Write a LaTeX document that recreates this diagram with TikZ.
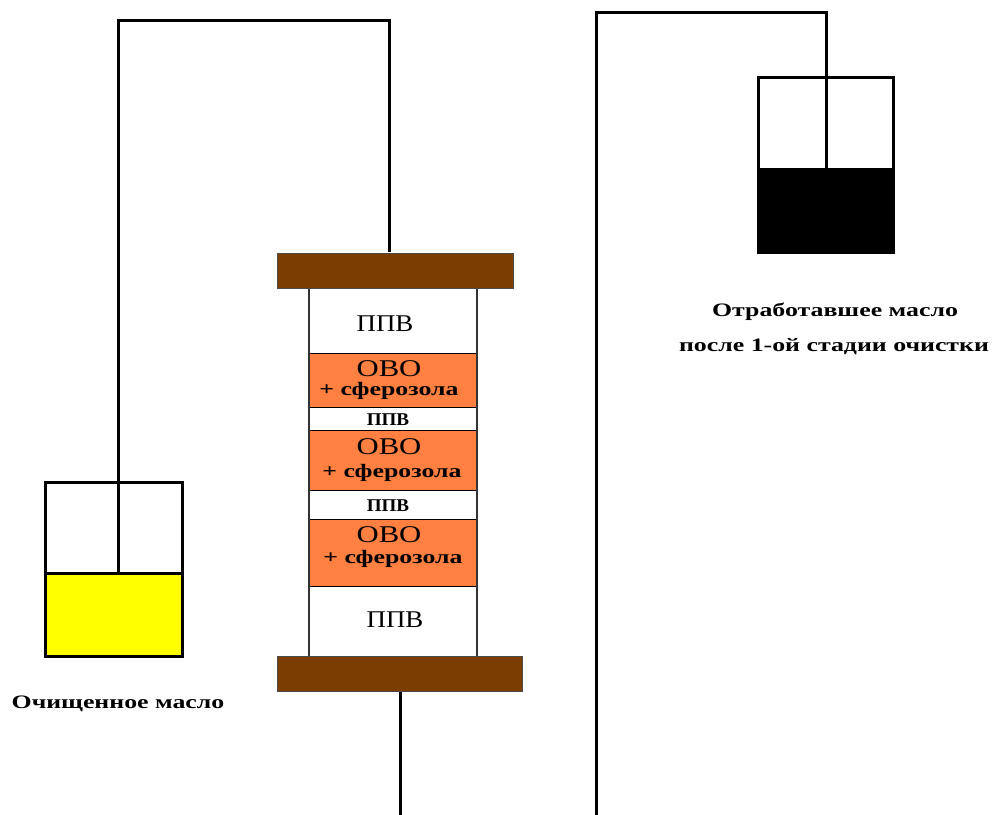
\documentclass[tikz,border=0pt]{standalone}
\usepackage{fontspec}
\setmainfont{Liberation Serif}
\newfontfamily\widebold[FakeStretch=1.36]{Liberation Serif Bold}
\newfontfamily\widecap[FakeStretch=1.06]{Liberation Serif Bold}
\newfontfamily\widereg[FakeStretch=1.28]{Liberation Serif}
\newfontfamily\midreg[FakeStretch=1.12]{Liberation Serif}
\definecolor{brownc}{RGB}{124,62,0}
\definecolor{orangec}{RGB}{255,128,64}
\definecolor{yellowc}{RGB}{255,255,0}
\tikzset{
 x=1pt,y=-1pt,
 pipe/.style={draw=black,line width=3pt,line cap=rect},
 lbl/.style={inner sep=0pt,anchor=base},
 small/.style={lbl,font=\widebold\fontsize{19}{19}\selectfont},
 smallcap/.style={lbl,font=\widecap\fontsize{18}{18}\selectfont},
 big/.style={lbl,font=\widereg\fontsize{24}{24}\selectfont},
 med/.style={lbl,font=\midreg\fontsize{24}{24}\selectfont},
}
\begin{document}
\begin{tikzpicture}
\useasboundingbox (0,0) rectangle (995,814);
% column layers
\fill[white] (309,289) rectangle (477,656);
\foreach \a/\b in {353/407,430/490,519/586}{\fill[orangec] (309,\a) rectangle (477,\b);}
\foreach \y in {353,407,430,490,519,586}{\draw[line width=0.8pt] (309,\y) -- (477,\y);}
\draw[line width=1.2pt,black!80] (309,289) -- (309,656) (477,289) -- (477,656);
\fill[brownc] (277,253) rectangle (513.5,288.5);
\fill[brownc] (277,656) rectangle (522,691.5);
\draw[line width=0.6pt,black!70] (277,253) rectangle (513.5,288.5);
\draw[line width=0.6pt,black!70] (277,656) rectangle (522,691.5);
% named nodes for connectors
\coordinate (topcap) at (389,250);
\coordinate (botcap) at (400,693);
\coordinate (botend) at (400,816);
\coordinate (a1) at (389,20);
\coordinate (a2) at (118,20);
\coordinate (a3) at (118,573);
\coordinate (b1) at (596,816);
\coordinate (b2) at (596,12);
\coordinate (b3) at (826,12);
\coordinate (b4) at (826,168);
% beakers
\fill[yellowc] (45,573) rectangle (182,656);
\fill[black] (758,168) rectangle (893,252);
\draw[pipe] (45,656) -- (45,482) -- (182,482) -- (182,656);
\draw[pipe] (45,656) -- (182,656);
\draw[pipe] (45,573) -- (182,573);
\draw[pipe] (758,252) -- (758,77) -- (893,77) -- (893,252);
\draw[pipe] (758,252) -- (893,252);
\draw[pipe] (topcap) -- (a1) -- (a2) -- (a3);
\draw[pipe] (botcap) -- (botend);
\draw[pipe] (b1) -- (b2) -- (b3) -- (b4);
% labels
\node[med] (p1) at (385,331) {ППВ};
\node[big] (o1) at (389,376) {ОВО};
\node[small] (s1) at (389,395) {+ сферозола};
\node[smallcap] (p2) at (388,425) {ППВ};
\node[big] (o2) at (389,454) {ОВО};
\node[small] (s2) at (392,477) {+ сферозола};
\node[smallcap] (p3) at (388,511) {ППВ};
\node[big] (o3) at (389,542) {ОВО};
\node[small] (s3) at (393,563) {+ сферозола};
\node[med] (p4) at (395,627) {ППВ};
\node[small] (l1) at (118,708) {Очищенное масло};
\node[small] (l2) at (835,316) {Отработавшее масло};
\node[small] (l3) at (834,351) {после 1-ой стадии очистки};
\end{tikzpicture}
\end{document}
